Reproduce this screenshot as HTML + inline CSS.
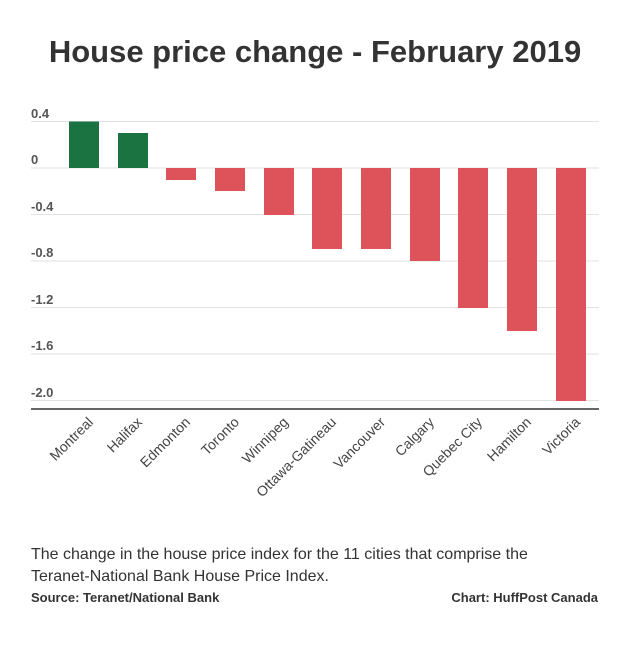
<!DOCTYPE html>
<html><head><meta charset="utf-8"><style>
body{margin:0;width:630px;height:643px;background:#fff;font-family:"Liberation Sans",sans-serif;overflow:hidden}
</style></head><body>
<svg width="630" height="643" xmlns="http://www.w3.org/2000/svg" font-family="Liberation Sans, sans-serif">
<text x="315" y="62" text-anchor="middle" font-size="31" font-weight="bold" fill="#333">House price change - February 2019</text>
<g stroke="#e2e2e2" stroke-width="1">
<line x1="31" x2="599" y1="121.5" y2="121.5"/><line x1="31" x2="599" y1="168" y2="168"/>
<line x1="31" x2="599" y1="214.5" y2="214.5"/><line x1="31" x2="599" y1="261" y2="261"/>
<line x1="31" x2="599" y1="307.5" y2="307.5"/><line x1="31" x2="599" y1="354" y2="354"/>
<line x1="31" x2="599" y1="400.5" y2="400.5"/>
</g>
<g font-size="13" fill="#555" font-weight="bold">
<text x="31" y="118">0.4</text><text x="31" y="164">0</text><text x="31" y="211">-0.4</text>
<text x="31" y="257">-0.8</text><text x="31" y="304">-1.2</text><text x="31" y="350">-1.6</text><text x="31" y="397">-2.0</text>
</g>
<g fill="#1a7340">
<rect x="69" y="121.5" width="30" height="46.5"/><rect x="118" y="133" width="30" height="35"/>
</g>
<g fill="#de5359">
<rect x="166" y="168" width="30" height="12"/>
<rect x="215" y="168" width="30" height="23"/>
<rect x="264" y="168" width="30" height="47"/>
<rect x="312" y="168" width="30" height="81"/>
<rect x="361" y="168" width="30" height="81"/>
<rect x="410" y="168" width="30" height="93"/>
<rect x="458" y="168" width="30" height="140"/>
<rect x="507" y="168" width="30" height="163"/>
<rect x="556" y="168" width="30" height="233"/>
</g>
<line x1="31" x2="599" y1="409" y2="409" stroke="#666" stroke-width="2"/>
<g font-size="14" fill="#444" text-anchor="end">
<text transform="translate(94,423) rotate(-45)">Montreal</text>
<text transform="translate(143,423) rotate(-45)">Halifax</text>
<text transform="translate(191,423) rotate(-45)">Edmonton</text>
<text transform="translate(240,423) rotate(-45)">Toronto</text>
<text transform="translate(289,423) rotate(-45)">Winnipeg</text>
<text transform="translate(337,423) rotate(-45)">Ottawa-Gatineau</text>
<text transform="translate(386,423) rotate(-45)">Vancouver</text>
<text transform="translate(435,423) rotate(-45)">Calgary</text>
<text transform="translate(483,423) rotate(-45)">Quebec City</text>
<text transform="translate(532,423) rotate(-45)">Hamilton</text>
<text transform="translate(581,423) rotate(-45)">Victoria</text>
</g>
<g font-size="16" fill="#333">
<text x="31" y="559">The change in the house price index for the 11 cities that comprise the</text>
<text x="31" y="581">Teranet-National Bank House Price Index.</text>
</g>
<g font-size="13" fill="#333" font-weight="bold">
<text x="31" y="602">Source: Teranet/National Bank</text>
<text x="598" y="602" text-anchor="end">Chart: HuffPost Canada</text>
</g>
</svg>
</body></html>
